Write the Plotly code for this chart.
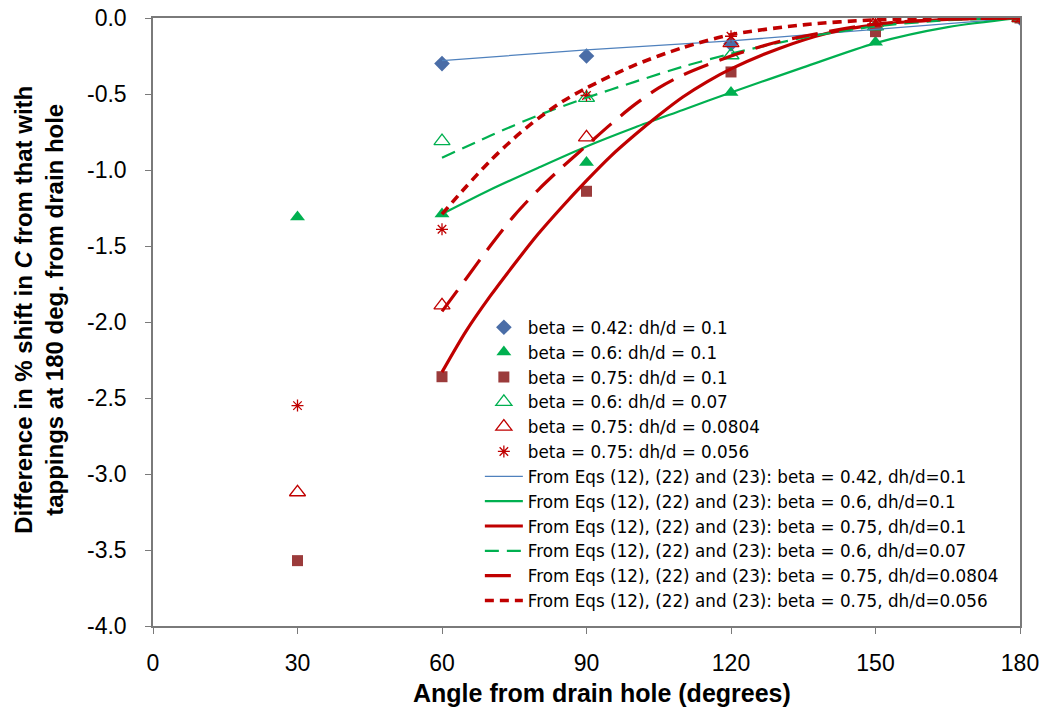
import plotly.graph_objects as go

# ---------------- data ----------------
ang_a = [60, 90, 120, 150, 180]
ang_b = [30, 60, 90, 120, 150, 180]

exp_042_01 = [-0.30, -0.25, -0.17, -0.07, 0.0]
exp_06_01 = [-1.31, -1.29, -0.95, -0.49, -0.16, 0.0]
exp_075_01 = [-3.57, -2.36, -1.14, -0.355, -0.09, 0.0]
exp_06_007 = [-0.81, -0.525, -0.245, -0.055, 0.0]
exp_075_0804 = [-3.12, -1.89, -0.785, -0.165, -0.03, 0.0]
exp_075_056 = [-2.55, -1.39, -0.51, -0.12, -0.02, 0.0]

eq_ang_042 = [60, 90, 120, 150, 180]
eq_042_01 = [-0.28, -0.21, -0.15, -0.075, 0.0]

eq_ang_06 = [60, 70, 80, 90, 100, 110, 120, 135, 150, 165, 180]
eq_06_01 = [-1.29, -1.13, -0.985, -0.845, -0.72, -0.605, -0.49, -0.325, -0.165, -0.06, 0.0]
eq_06_007 = [-0.92, -0.775, -0.64, -0.525, -0.42, -0.32, -0.235, -0.13, -0.055, -0.015, 0.0]

eq_ang_075 = [60, 65, 70, 75, 80, 85, 90, 95, 100, 105, 110, 115, 120, 130, 140, 150, 165, 180]
eq_075_01 = [-2.33, -2.06, -1.83, -1.62, -1.42, -1.24, -1.07, -0.91, -0.77, -0.64, -0.52,
             -0.42, -0.335, -0.20, -0.10, -0.045, -0.01, 0.0]

eq_ang_0804 = [60, 65, 70, 75, 80, 85, 90, 95, 100, 105, 110, 120, 130, 140, 150, 165, 180]
eq_075_0804 = [-1.93, -1.715, -1.50, -1.30, -1.13, -0.98, -0.84, -0.70, -0.57, -0.46, -0.375,
               -0.25, -0.155, -0.09, -0.04, -0.008, 0.0]

eq_ang_056 = [60, 65, 70, 75, 80, 85, 90, 100, 110, 120, 135, 150, 165, 180]
eq_075_056 = [-1.29, -1.11, -0.94, -0.79, -0.66, -0.55, -0.46, -0.31, -0.195, -0.11,
              -0.045, -0.012, -0.003, 0.0]

x_ticks = [0, 30, 60, 90, 120, 150, 180]
y_ticks = [0.0, -0.5, -1.0, -1.5, -2.0, -2.5, -3.0, -3.5, -4.0]
y_tick_labels = ["0.0", "-0.5", "-1.0", "-1.5", "-2.0", "-2.5", "-3.0", "-3.5", "-4.0"]

# ---------------- styling ----------------
FONT = "Liberation Sans, Arial, Helvetica, sans-serif"
LEG_FONT = "DejaVu Sans, Liberation Sans, Arial, sans-serif"
BLUE_M = "#4A6DA7"
BLUE_L = "#4F81BD"
GREEN = "#00B050"
RED = "#C00000"
BROWN = "#9B3B3B"

fig = go.Figure()

fig.add_trace(go.Scatter(x=ang_a, y=exp_042_01, mode="markers",
                         name="beta = 0.42: dh/d = 0.1",
                         marker=dict(symbol="diamond", size=12, color=BLUE_M)))
fig.add_trace(go.Scatter(x=ang_b, y=exp_06_01, mode="markers",
                         name="beta = 0.6: dh/d = 0.1",
                         marker=dict(symbol="triangle-up", size=13, color=GREEN)))
fig.add_trace(go.Scatter(x=ang_b, y=exp_075_01, mode="markers",
                         name="beta = 0.75: dh/d = 0.1",
                         marker=dict(symbol="square", size=11, color=BROWN)))
fig.add_trace(go.Scatter(x=ang_a, y=exp_06_007, mode="markers",
                         name="beta = 0.6: dh/d = 0.07",
                         marker=dict(symbol="triangle-up-open", size=14, color=GREEN,
                                     line=dict(width=1.3))))
fig.add_trace(go.Scatter(x=ang_b, y=exp_075_0804, mode="markers",
                         name="beta = 0.75: dh/d = 0.0804",
                         marker=dict(symbol="triangle-up-open", size=14, color=RED,
                                     line=dict(width=1.3))))
fig.add_trace(go.Scatter(x=ang_b, y=exp_075_056, mode="markers",
                         name="beta = 0.75: dh/d = 0.056",
                         marker=dict(symbol="asterisk-open", size=10, color=RED,
                                     line=dict(width=1.3, color=RED))))

fig.add_trace(go.Scatter(x=eq_ang_042, y=eq_042_01, mode="lines",
                         name="From Eqs (12), (22) and (23): beta = 0.42, dh/d=0.1",
                         line=dict(color=BLUE_L, width=1.3, shape="spline", smoothing=0.8)))
fig.add_trace(go.Scatter(x=eq_ang_06, y=eq_06_01, mode="lines",
                         name="From Eqs (12), (22) and (23): beta = 0.6, dh/d=0.1",
                         line=dict(color=GREEN, width=2.2, shape="spline", smoothing=0.8)))
fig.add_trace(go.Scatter(x=eq_ang_075, y=eq_075_01, mode="lines",
                         name="From Eqs (12), (22) and (23): beta = 0.75, dh/d=0.1",
                         line=dict(color=RED, width=3.2, shape="spline", smoothing=0.8)))
fig.add_trace(go.Scatter(x=eq_ang_06, y=eq_06_007, mode="lines",
                         name="From Eqs (12), (22) and (23): beta = 0.6, dh/d=0.07",
                         line=dict(color=GREEN, width=2.2, dash="14px,8px",
                                   shape="spline", smoothing=0.8)))
fig.add_trace(go.Scatter(x=eq_ang_0804, y=eq_075_0804, mode="lines",
                         name="From Eqs (12), (22) and (23): beta = 0.75, dh/d=0.0804",
                         line=dict(color=RED, width=3.2, dash="26px,12px",
                                   shape="spline", smoothing=0.8)))
fig.add_trace(go.Scatter(x=eq_ang_056, y=eq_075_056, mode="lines",
                         name="From Eqs (12), (22) and (23): beta = 0.75, dh/d=0.056",
                         line=dict(color=RED, width=3.6, dash="9px,6px",
                                   shape="spline", smoothing=0.8)))

axis_common = dict(showgrid=False, zeroline=False, showline=True, linecolor="#7A7A7A",
                   linewidth=1.5, mirror=True, ticks="outside", ticklen=6,
                   tickcolor="#7A7A7A", tickwidth=1.2, automargin=False,
                   ticklabeloverflow="allow",
                   tickfont=dict(family=FONT, size=23, color="#000000"))

# page body has an 8px default margin, so the figure is sized to fill the rest
fig.update_layout(
    width=1039, height=701,
    margin=dict(l=145, r=27, t=10, b=83, autoexpand=False),
    paper_bgcolor="white", plot_bgcolor="white",
    font=dict(family=FONT, color="#000000"),
    showlegend=True,
    legend=dict(x=0.377, y=0.52, xanchor="left", yanchor="top",
                bgcolor="rgba(0,0,0,0)", borderwidth=0,
                font=dict(family=LEG_FONT, size=16.8, color="#000000"),
                tracegroupgap=0, itemwidth=38),
    xaxis=dict(range=[0, 180], tickvals=x_ticks, ticklabelstandoff=10, **axis_common),
    yaxis=dict(range=[-4, 0], tickvals=y_ticks, ticktext=y_tick_labels,
               ticklabelstandoff=14, **axis_common),
    annotations=[
        dict(text="Difference in % shift in <i>C</i> from that with<br>tappings at 180 deg. from drain hole",
             xref="paper", yref="paper", x=-0.1315, y=0.52, xanchor="center", yanchor="middle",
             textangle=-90, showarrow=False,
             font=dict(family=FONT, size=24, color="#000000", weight="bold")),
        dict(text="<b>Angle from drain hole (degrees)</b>",
             xref="paper", yref="paper", x=0.518, y=-0.11, xanchor="center", yanchor="middle",
             showarrow=False, font=dict(family=FONT, size=25, color="#000000")),
    ],
)

fig.write_html("out.html")
